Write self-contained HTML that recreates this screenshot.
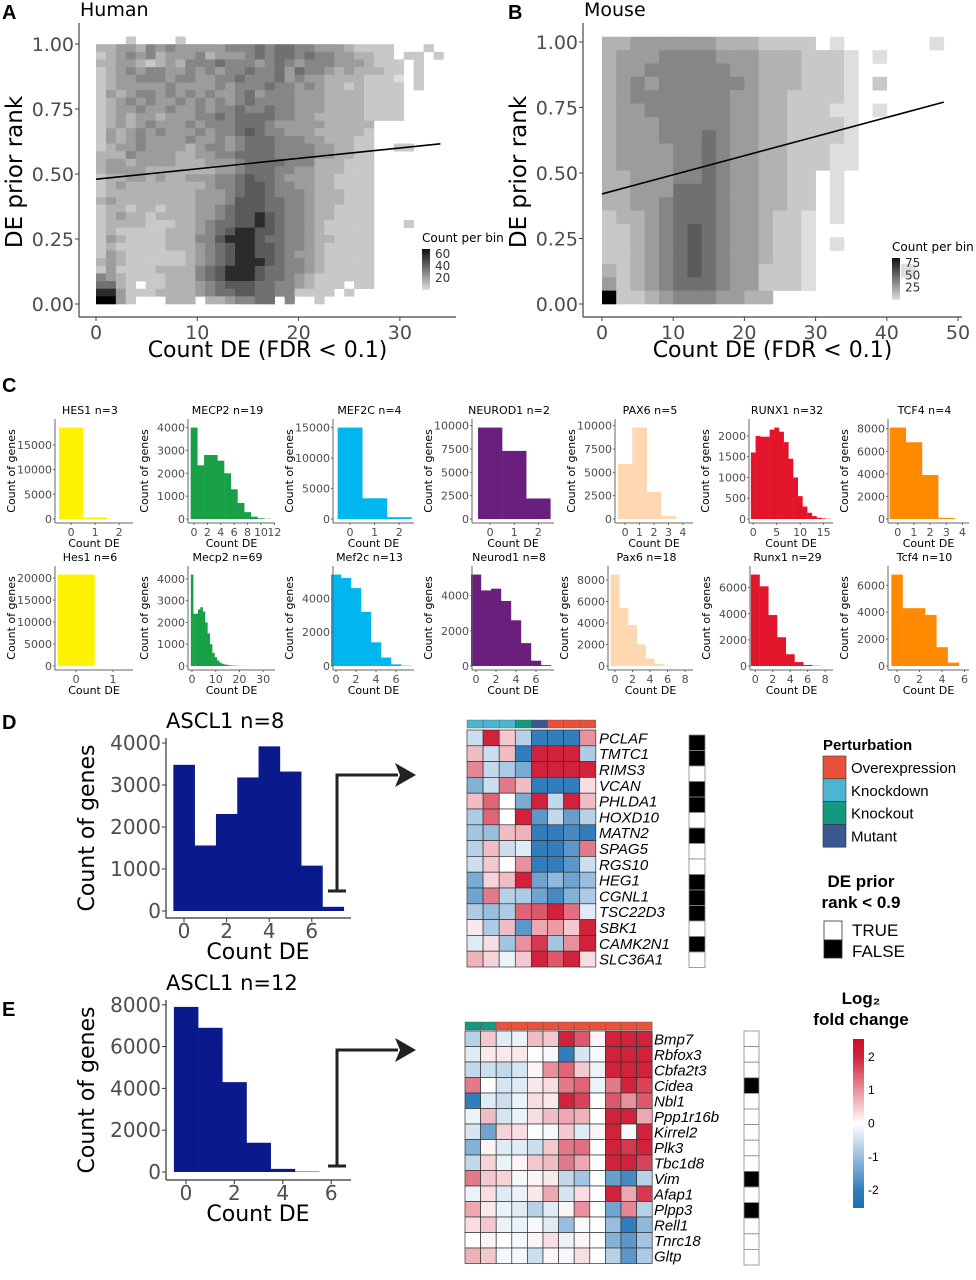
<!DOCTYPE html>
<html><head><meta charset="utf-8">
<style>
html,body{margin:0;padding:0;background:#fff;}
svg{display:block;}
.dj{font-family:"DejaVu Sans","Liberation Sans",sans-serif;}
.ls{font-family:"Liberation Sans",sans-serif;}
</style></head>
<body>
<svg id="fig" width="976" height="1280" viewBox="0 0 976 1280" xmlns="http://www.w3.org/2000/svg"></svg>
<script>
// ---------- Panel A (human) 2D histogram intensity rows (top -> bottom), levels 1..9, '.' empty ----------
const humanRows = [
"...2....2..........................",
"334435454444455565665544432222...2.",
"234545344453444565665655443322.22.2",
"3344323435556555456545554443222.2..",
"2345455445454556556465543433322.2..",
"2344555455445565556454433332221.2..",
"2344444544445455565545433232222.2..",
"2434554545454456455544433332222....",
"2345454454545456555544433332222....",
"2344544544545565565544433332222....",
"2343443444556566665544333332222....",
"2343454445455566654444433333.......",
"2434545444545567655444333332.......",
"2434544445445456665554433322.......",
"2344544443455456665555443322..22...",
"3335444433445566665555443322.......",
"3443444433344456666555333222.......",
"3444433333334456665544333222.......",
"2334434334445567665444332222.......",
"2343333333345567765544332222.......",
"2333333333444567765554333222.......",
"3433333333444577766554333222.......",
"2332332333445677766554332222.......",
"2343323333445677876554332222.......",
"2333322233456677876554322222...2...",
"2322222333456788776554322222.......",
"2432222333557888766554332222.......",
"2322222333456788776554322222.......",
"2432222223456788776544322222.......",
"3432222223456788876554322222.......",
"2422223333567888766554322222.......",
"5432222333567888766543222222.......",
"6632.22333456777665543222.22.......",
"884222333345667766552222.2.........",
"9942...333.3345566.5..2............"
];
const humanIntercept = 0.48;
const humanSlope = 0.0040;
const humanLineMaxX = 34;
const humanBarTicks = [20, 40, 60];

// ---------- Panel B (mouse) 2D histogram rows (2-unit x bins) ----------
const mouseRows = [
"334444443332222.1......1",
"344455554443332221.1....",
"344555555443332221......",
"345455555543332221.2....",
"345555555443322221......",
"344555555443322211.1....",
"344455555443322221......",
"344455565443322221......",
"344445565443322211......",
"344445565443322211......",
"334445565443322.1.......",
"334446665443322.1.......",
"334456665443322.1.......",
"233456665443221.1.......",
"223456765443221.........",
"223456765443221.1.......",
"223456765443221.........",
"323456765442221......1..",
"423456665442221.........",
"922345554433............"
];
const mouseIntercept = 0.42;
const mouseSlope = 0.0073;
const mouseLineMaxX = 48;
const mouseBarTicks = [25, 50, 75];

// ---------- Panel C histograms ----------
const hes1Human = [18500, 300, 0];
const mecp2Human = [4000, 2350, 2800, 2800, 2550, 2000, 1300, 700, 300, 100, 30, 10];
const mef2cHuman = [15000, 3400, 300];
const neurod1Human = [9800, 7300, 2200];
const pax6Human = [5900, 9800, 2900, 300, 0];
const runx1Human = [1600, 2000, 1980, 1980, 2150, 2200, 2100, 1850, 1450, 1000, 550, 300, 150, 70, 30, 15, 5];
const tcf4Human = [8100, 6800, 3900, 100, 0];
const hes1Mouse = [20800, 0];
const mecp2Mouse = [4200, 2400, 2400, 2600, 2700, 2500, 2000, 1500, 1000, 600, 400, 250, 150, 100, 70, 50, 30, 20, 15, 10, 5, 5, 3, 2, 1];
const mef2cMouse = [5400, 5200, 4600, 3200, 1400, 500, 100, 20];
const neurod1Mouse = [5200, 4300, 4400, 3700, 2600, 1300, 300, 50];
const pax6Mouse = [8500, 5400, 3800, 2000, 700, 200, 50, 10];
const runx1Mouse = [7000, 6100, 3900, 2200, 900, 300, 80, 20];
const tcf4Mouse = [6800, 4300, 4300, 3800, 1400, 250, 0];

// ---------- Panel D / E histograms ----------
const ascl1HumanCounts = [3480, 1560, 2310, 3180, 3920, 3320, 1080, 100];
const ascl1HumanYTicks = [0, 1000, 2000, 3000, 4000];
const ascl1MouseCounts = [7900, 6900, 4300, 1400, 150, 20];
const ascl1MouseYTicks = [0, 2000, 4000, 6000, 8000];
const countDeTicks = [0, 2, 4, 6];

// ---------- Heatmap D ----------
const genesD = ["PCLAF","TMTC1","RIMS3","VCAN","PHLDA1","HOXD10","MATN2","SPAG5","RGS10","HEG1","CGNL1","TSC22D3","SBK1","CAMK2N1","SLC36A1"];
const pertD = ["KD","KD","KD","KO","MUT","OE","OE","OE"];
const lfcD = [
[-0.5,2,0.5,-0.7,-2,-2,-2,1],
[0.6,-0.5,0.6,-2,2,2,2,-0.8],
[1.1,-0.6,-0.8,-1.3,2,2,2,2],
[-1.2,-0.5,1.2,0.6,-2,-2,-2,0.3],
[0.6,1.4,0,-1.3,2,-0.6,2,0.6],
[-0.8,1.4,0,2,-1.6,-0.6,-1.5,-0.7],
[-0.9,-1,0.6,0.7,-2,-2,-1.8,-2],
[-0.7,0.6,-0.5,-0.3,-2,-2,-1.6,1.2],
[-0.5,0.5,0,1,-2,-2,-1.6,-0.5],
[-1.3,0.4,0.6,2,-1.4,-1.1,-1.4,-1],
[-1.4,1.2,-0.7,-0.8,-1.4,-1.8,-1.2,-0.8],
[-0.8,-1,-0.8,1.4,1.5,2,1.3,-0.3],
[0.2,-0.8,0.6,-1.6,0.8,0.9,0.5,2],
[-0.3,0.3,-0.9,1,1.8,-0.9,1,2],
[0.7,0.4,-0.2,0.5,2,1.5,2,0.3]
];
const priorD = [false,false,true,false,false,true,false,true,true,false,false,false,true,false,true];

// ---------- Heatmap E ----------
const genesE = ["Bmp7","Rbfox3","Cbfa2t3","Cidea","Nbl1","Ppp1r16b","Kirrel2","Plk3","Tbc1d8","Vim","Afap1","Plpp3","Rell1","Tnrc18","Gltp"];
const pertE = ["KO","KO","OE","OE","OE","OE","OE","OE","OE","OE","OE","OE"];
const lfcE = [
[-0.7,0.5,-0.3,-0.2,0.6,0.5,2,1.5,0.1,2,2,2],
[-0.3,0.2,0.2,0.2,0,-0.1,-2,-0.4,-0.1,2,2,2],
[-0.6,-0.5,-0.6,-0.4,0.1,1,1.4,0.5,-0.2,2,2,2],
[1.2,0,-0.4,-0.3,0.2,0.3,1.2,1.4,-0.2,1.2,2,1.7],
[-2,-0.3,-0.5,-0.2,0.3,0.2,2,1.7,0,1.5,1,1.5],
[-0.2,0.6,-0.4,-0.2,0.3,0.6,0.8,0.7,0,2,2,0.8],
[-0.4,-1.4,0.4,0.3,0,-0.1,0.5,-0.3,0.1,2,-0.1,2],
[-1.2,0.1,-0.3,-0.3,-0.5,0.5,1.2,1.3,0,2,1.8,2],
[-0.6,0.4,-0.2,0.1,0.5,0.6,1.2,0.8,0,2,2,1.7],
[1.2,0.5,0.4,-0.1,0.1,0.2,-0.6,-0.9,0,-1.5,-1.8,-0.7],
[-0.2,0.3,-0.3,-0.2,0.2,0.8,-0.4,0.3,0,2,0.8,1.8],
[0.8,0.2,-0.2,-0.3,-0.7,-0.3,0.1,1,0,-1.4,1.1,-0.7],
[0.3,0.5,-0.2,-0.2,-0.1,-0.3,-1,-0.1,0,-1,-2,-1.1],
[0,0.1,0,-0.1,0.1,0.3,-0.2,0.1,0,-1.2,-1.6,-0.9],
[0.7,0.5,-0.1,-0.1,-0.5,0.1,-0.1,0.3,0,-0.7,-1.6,-0.8]
];
const priorE = [true,true,true,false,true,true,true,true,true,false,true,false,true,true,true];
const lfcTicks = [2, 1, 0, -1, -2];

// ================= drawing =================
const NS = 'http://www.w3.org/2000/svg';
const svg = document.getElementById('fig');
function mk(tag, parent, attrs, text) {
  const e = document.createElementNS(NS, tag);
  for (const k in attrs) e.setAttribute(k, attrs[k]);
  if (text !== undefined) e.textContent = text;
  (parent || svg).appendChild(e);
  return e;
}
function grp(name) {
  const g = mk('g', svg, {});
  
  
  return g;
}
function lvlGray(l) { const g = Math.round(222 - (l - 1) * 22 - (l >= 8 ? (l - 7) * 25 : 0)); return `rgb(${g},${g},${g})`; }
const AX = '#444', TK = '#4d4d4d';

// Panel letters
[['A',2,19],['B',508,19],['C',2,392],['D',2,729],['E',2,1016]].forEach(p => {
  const t = mk('text', svg, {x:p[1], y:p[2], 'font-size':20, 'font-weight':'bold', class:'ls'}, p[0]);
  
  
});

function density(opts) {
  const g = grp(opts.name);
  const {xs, ys, rows, binX, binY, top} = opts;
  rows.forEach((row, r) => {
    for (let c = 0; c < row.length; c++) {
      const ch = row[c]; if (ch === '.') continue;
      const x0 = xs(c * binX), x1 = xs((c + 1) * binX);
      const y0 = ys(top - r * binY), y1 = ys(top - (r + 1) * binY);
      const rc = mk('rect', g, {x:x0, y:y0, width:x1 - x0 + 0.3, height:y1 - y0 + 0.3, fill:lvlGray(+ch)});
      
      
    }
  });
  const ln = mk('line', g, {x1:xs(0), y1:ys(opts.intercept), x2:xs(opts.lineMax), y2:ys(opts.intercept + opts.slope * opts.lineMax), stroke:'#000', 'stroke-width':1.6});
  
  
  mk('line', g, {x1:opts.axL, y1:opts.axT, x2:opts.axL, y2:opts.axB, stroke:AX, 'stroke-width':1.2});
  mk('line', g, {x1:opts.axL, y1:opts.axB, x2:opts.axR, y2:opts.axB, stroke:AX, 'stroke-width':1.2});
  [0, 0.25, 0.5, 0.75, 1].forEach(v => {
    mk('line', g, {x1:opts.axL - 4, y1:ys(v), x2:opts.axL, y2:ys(v), stroke:AX});
    const t = mk('text', g, {x:opts.axL - 5, y:ys(v) + 7, 'text-anchor':'end', 'font-size':19, fill:TK, class:'dj'}, v.toFixed(2));
    
    
  });
  opts.xticks.forEach(v => {
    mk('line', g, {x1:xs(v), y1:opts.axB, x2:xs(v), y2:opts.axB + 4, stroke:AX});
    const t = mk('text', g, {x:xs(v), y:opts.axB + 22, 'text-anchor':'middle', 'font-size':19, fill:TK, class:'dj'}, v);
    
    
  });
  const xt = mk('text', g, {x:(opts.axL + opts.axR) / 2, y:357, 'text-anchor':'middle', 'font-size':22, class:'dj'}, 'Count DE (FDR < 0.1)');
  
  
  const yt = mk('text', g, {x:0, y:0, transform:`translate(${opts.axL - 57},172) rotate(-90)`, 'text-anchor':'middle', 'font-size':23, class:'dj'}, 'DE prior rank');
  
  
  const st = mk('text', g, {x:opts.axL + 1, y:16, 'font-size':19, class:'dj'}, opts.title);
  
  
  const lg = mk('g', g, {});
  
  
  const gid = 'grad' + opts.name;
  const defs = mk('defs', lg, {});
  const lgd = mk('linearGradient', defs, {id:gid, x1:0, y1:0, x2:0, y2:1});
  mk('stop', lgd, {offset:0, 'stop-color':'#111'});
  mk('stop', lgd, {offset:1, 'stop-color':'#ddd'});
  mk('text', lg, {x:opts.cbX, y:opts.cbY - 7, 'font-size':12, class:'dj'}, 'Count per bin');
  mk('rect', lg, {x:opts.cbX, y:opts.cbY, width:8, height:opts.cbH, fill:`url(#${gid})`});
  opts.cbTicks.forEach(v => {
    const yy = opts.cbY + opts.cbH * (1 - v / opts.cbMax);
    mk('text', lg, {x:opts.cbX + 13, y:yy + 4, 'font-size':12, fill:'#333', class:'dj'}, v);
  });
}

density({name:'panel-a-human', title:'Human', rows:humanRows,
  xs:v => 96 + 10.13 * v, ys:v => 304 - 260 * v, binX:0.98, binY:1.0286 / 35, top:1.0286,
  intercept:humanIntercept, slope:humanSlope, lineMax:humanLineMaxX,
  axL:79, axR:456, axT:23, axB:317, xticks:[0, 10, 20, 30],
  cbX:422, cbY:249, cbH:41, cbMax:68, cbTicks:humanBarTicks});
density({name:'panel-b-mouse', title:'Mouse', rows:mouseRows,
  xs:v => 602 + 7.12 * v, ys:v => 304 - 262 * v, binX:2, binY:0.051, top:1.02,
  intercept:mouseIntercept, slope:mouseSlope, lineMax:mouseLineMaxX,
  axL:583, axR:962, axT:23, axB:317, xticks:[0, 10, 20, 30, 40, 50],
  cbX:892, cbY:258, cbH:42, cbMax:85, cbTicks:mouseBarTicks});

// ---------------- Panel C ----------------
const cPanels = [
 {t:'HES1 n=3', d:hes1Human, c:'#fff200', x0:55, w:78, row:0, xd:[-0.67,2.58], xt:[0,1,2], yt:[0,5000,10000,15000]},
 {t:'MECP2 n=19', d:mecp2Human, c:'#17a045', x0:188, w:87, row:0, xd:[-0.9,12.1], xt:[0,2,4,6,8,10,12], yt:[0,1000,2000,3000,4000]},
 {t:'MEF2C n=4', d:mef2cHuman, c:'#00b6ef', x0:333, w:81, row:0, xd:[-0.69,2.6], xt:[0,1,2], yt:[0,5000,10000,15000]},
 {t:'NEUROD1 n=2', d:neurod1Human, c:'#6a1f7c', x0:472, w:82, row:0, xd:[-0.75,2.65], xt:[0,1,2], yt:[0,2500,5000,7500,10000]},
 {t:'PAX6 n=5', d:pax6Human, c:'#fdd8b0', x0:615, w:78, row:0, xd:[-0.7,4.7], xt:[0,1,2,3,4], yt:[0,2500,5000,7500,10000]},
 {t:'RUNX1 n=32', d:runx1Human, c:'#e3152b', x0:749, w:84, row:0, xd:[-0.9,17], xt:[0,5,10,15], yt:[0,500,1000,1500,2000]},
 {t:'TCF4 n=4', d:tcf4Human, c:'#ff8a00', x0:888, w:81, row:0, xd:[-0.6,4.4], xt:[0,1,2,3,4], yt:[0,2000,4000,6000,8000]},
 {t:'Hes1 n=6', d:hes1Mouse, c:'#fff200', x0:55, w:78, row:1, xd:[-0.57,1.54], xt:[0,1], yt:[0,5000,10000,15000,20000]},
 {t:'Mecp2 n=69', d:mecp2Mouse, c:'#17a045', x0:188, w:87, row:1, xd:[-1.7,35], xt:[0,10,20,30], yt:[0,1000,2000,3000,4000]},
 {t:'Mef2c n=13', d:mef2cMouse, c:'#00b6ef', x0:333, w:81, row:1, xd:[-0.3,7.8], xt:[0,2,4,6], yt:[0,2000,4000]},
 {t:'Neurod1 n=8', d:neurod1Mouse, c:'#6a1f7c', x0:472, w:82, row:1, xd:[-0.4,7.8], xt:[0,2,4,6], yt:[0,2000,4000]},
 {t:'Pax6 n=18', d:pax6Mouse, c:'#fdd8b0', x0:608, w:85, row:1, xd:[-0.8,8.9], xt:[0,2,4,6,8], yt:[0,2000,4000,6000,8000]},
 {t:'Runx1 n=29', d:runx1Mouse, c:'#e3152b', x0:750, w:83, row:1, xd:[-0.6,8.9], xt:[0,2,4,6,8], yt:[0,2000,4000,6000]},
 {t:'Tcf4 n=10', d:tcf4Mouse, c:'#ff8a00', x0:888, w:81, row:1, xd:[-0.8,6.4], xt:[0,2,4,6], yt:[0,2000,4000,6000]}
];
cPanels.forEach(p => {
  const g = grp('histogram-' + p.t.split(' ')[0].toLowerCase() + (p.row ? '-mouse' : '-human'));
  const top = p.row ? 570 : 423, base = p.row ? 666 : 519, axY = base + 4;
  const ymax = Math.max(...p.d) * 1.05;
  const xs = v => p.x0 + (v - p.xd[0]) / (p.xd[1] - p.xd[0]) * p.w;
  const ys = v => base - v / ymax * (base - top);
  p.d.forEach((v, i) => {
    if (v <= 0) return;
    const r = mk('rect', g, {x:xs(i - 0.5), y:ys(v), width:xs(i + 0.5) - xs(i - 0.5) + 0.2, height:base - ys(v), fill:p.c});
    
    
  });
  mk('line', g, {x1:p.x0, y1:top - 4, x2:p.x0, y2:axY, stroke:'#666', 'stroke-width':1});
  mk('line', g, {x1:p.x0, y1:axY, x2:p.x0 + p.w, y2:axY, stroke:'#666', 'stroke-width':1});
  p.yt.forEach(v => {
    mk('line', g, {x1:p.x0 - 2, y1:ys(v), x2:p.x0, y2:ys(v), stroke:'#666'});
    mk('text', g, {x:p.x0 - 3, y:ys(v) + 4, 'text-anchor':'end', 'font-size':11, fill:TK, class:'dj'}, v);
  });
  p.xt.forEach(v => {
    mk('line', g, {x1:xs(v), y1:axY, x2:xs(v), y2:axY + 2, stroke:'#666'});
    mk('text', g, {x:xs(v), y:axY + 13, 'text-anchor':'middle', 'font-size':11, fill:TK, class:'dj'}, v);
  });
  mk('text', g, {x:p.x0 + p.w / 2, y:axY + 24, 'text-anchor':'middle', 'font-size':11, class:'dj'}, 'Count DE');
  mk('text', g, {x:0, y:0, transform:`translate(${p.x0 - 40},${(top + base) / 2}) rotate(-90)`, 'text-anchor':'middle', 'font-size':11, class:'dj'}, 'Count of genes');
  mk('text', g, {x:p.x0 + p.w / 2 - 4, y:top - 9, 'text-anchor':'middle', 'font-size':11, class:'dj'}, p.t);
});

// ---------------- Panels D/E histograms ----------------
function bigHist(name, title, counts, yticks, base, pxPerUnitY, x0px, pxPerX, axTop, axBot, arrowTop, capY) {
  const g = grp(name);
  const xs = v => x0px + pxPerX * v;
  const ys = v => base - v * pxPerUnitY;
  counts.forEach((v, i) => {
    const r = mk('rect', g, {x:xs(i - 0.5), y:ys(v), width:pxPerX + 0.3, height:base - ys(v), fill:'#0a1a8c'});
    
    
  });
  mk('line', g, {x1:166, y1:axTop, x2:166, y2:axBot, stroke:'#333', 'stroke-width':1.2});
  mk('line', g, {x1:166, y1:axBot, x2:351, y2:axBot, stroke:'#333', 'stroke-width':1.2});
  yticks.forEach(v => {
    mk('line', g, {x1:162, y1:ys(v), x2:166, y2:ys(v), stroke:'#333'});
    mk('text', g, {x:161, y:ys(v) + 7, 'text-anchor':'end', 'font-size':20, fill:TK, class:'dj'}, v);
  });
  countDeTicks.forEach(v => {
    mk('line', g, {x1:xs(v), y1:axBot, x2:xs(v), y2:axBot + 4, stroke:'#333'});
    mk('text', g, {x:xs(v), y:axBot + 20, 'text-anchor':'middle', 'font-size':20, fill:TK, class:'dj'}, v);
  });
  mk('text', g, {x:258, y:axBot + 41, 'text-anchor':'middle', 'font-size':22, class:'dj'}, 'Count DE');
  mk('text', g, {x:0, y:0, transform:`translate(94,${(axTop + axBot) / 2}) rotate(-90)`, 'text-anchor':'middle', 'font-size':22, class:'dj'}, 'Count of genes');
  mk('text', g, {x:166, y:axTop - 10, 'font-size':21, class:'dj'}, title);
  const ar = mk('g', g, {});
  
  
  mk('polyline', ar, {points:`337,${capY} 337,${arrowTop} 398,${arrowTop}`, fill:'none', stroke:'#222', 'stroke-width':3});
  mk('line', ar, {x1:328, y1:capY, x2:346, y2:capY, stroke:'#222', 'stroke-width':3});
  mk('polygon', ar, {points:`395,${arrowTop - 12} 416,${arrowTop} 395,${arrowTop + 12} 400,${arrowTop}`, fill:'#222'});
}
bigHist('histogram-ascl1-human', 'ASCL1 n=8', ascl1HumanCounts, ascl1HumanYTicks, 911, 0.042, 184, 21.3, 738, 918, 775, 891);
bigHist('histogram-ascl1-mouse', 'ASCL1 n=12', ascl1MouseCounts, ascl1MouseYTicks, 1172, 0.0209, 186, 24.2, 1000, 1180, 1050, 1166);

// ---------------- Heatmaps ----------------
const pertColor = {OE:'#e8513a', KD:'#4bb6d1', KO:'#14997f', MUT:'#3b5890'};
function lfcColor(v) {
  const t = Math.min(1, Math.abs(v) / 2.2);
  const c = v >= 0 ? [204, 12, 40] : [30, 112, 180];
  const m = c.map(k => Math.round(255 + (k - 255) * t));
  return `rgb(${m[0]},${m[1]},${m[2]})`;
}
function heatmap(name, genes, pert, lfc, prior, x0, cw, annTop, annH, rowTop, rh, labX, boxX, boxW, boxTop, boxRh) {
  const g = grp(name);
  pert.forEach((p, j) => {
    const r = mk('rect', g, {x:x0 + j * cw, y:annTop, width:cw, height:annH, fill:pertColor[p], stroke:'#555', 'stroke-width':0.4});
    
    
  });
  lfc.forEach((row, i) => {
    row.forEach((v, j) => {
      const r = mk('rect', g, {x:x0 + j * cw, y:rowTop + i * rh, width:cw, height:rh, fill:lfcColor(v), stroke:'#333', 'stroke-width':0.7});
      
      
    });
    const t = mk('text', g, {x:labX, y:rowTop + i * rh + rh / 2 + 5.5, 'font-size':15, 'font-style':'italic', class:'ls'}, genes[i]);
    
    
    const b = mk('rect', g, {x:boxX, y:boxTop + i * boxRh, width:boxW, height:boxRh, fill:prior[i] ? '#fff' : '#000', stroke:'#888', 'stroke-width':0.8});
    
    
  });
}
heatmap('heatmap-human', genesD, pertD, lfcD, priorD, 467, 16.1, 720, 8, 730, 15.8, 599, 689, 16, 735, 15.5);
heatmap('heatmap-mouse', genesE, pertE, lfcE, priorE, 465, 15.6, 1022, 8, 1031, 15.5, 654, 744, 15, 1031, 15.6);

// ---------------- Legends ----------------
const lg = grp('heatmap-legends');
mk('text', lg, {x:823, y:750, 'font-size':15, 'font-weight':'bold', class:'ls'}, 'Perturbation');
[['Overexpression','OE'],['Knockdown','KD'],['Knockout','KO'],['Mutant','MUT']].forEach((p, i) => {
  const r = mk('rect', lg, {x:823, y:756 + i * 22.8, width:23, height:22.8, fill:pertColor[p[1]], stroke:'#333', 'stroke-width':0.6});
  
  
  mk('text', lg, {x:851, y:756 + i * 22.8 + 17, 'font-size':15, class:'ls'}, p[0]);
});
mk('text', lg, {x:861, y:887, 'font-size':17, 'font-weight':'bold', 'text-anchor':'middle', class:'ls'}, 'DE prior');
mk('text', lg, {x:861, y:908, 'font-size':17, 'font-weight':'bold', 'text-anchor':'middle', class:'ls'}, 'rank < 0.9');
mk('rect', lg, {x:824, y:921, width:18, height:19, fill:'#fff', stroke:'#333', 'stroke-width':0.8});
mk('rect', lg, {x:824, y:940, width:18, height:18, fill:'#000', stroke:'#333', 'stroke-width':0.8});
mk('text', lg, {x:852, y:936, 'font-size':17, class:'ls'}, 'TRUE');
mk('text', lg, {x:852, y:957, 'font-size':17, class:'ls'}, 'FALSE');
mk('text', lg, {x:861, y:1004, 'font-size':17, 'font-weight':'bold', 'text-anchor':'middle', class:'ls'}, 'Log₂');
mk('text', lg, {x:861, y:1025, 'font-size':17, 'font-weight':'bold', 'text-anchor':'middle', class:'ls'}, 'fold change');
const dfs = mk('defs', lg, {});
const lgr = mk('linearGradient', dfs, {id:'lfcgrad', x1:0, y1:0, x2:0, y2:1});
[2.54, 2, 1, 0, -1, -2, -2.54].forEach(v => {
  mk('stop', lgr, {offset:((2.54 - v) / 5.08).toFixed(3), 'stop-color':lfcColor(v)});
});
const cb = mk('rect', lg, {x:853, y:1039, width:11, height:169, fill:'url(#lfcgrad)'});


lfcTicks.forEach(v => {
  const yy = 1039 + 169 * (2.54 - v) / 5.08;
  mk('text', lg, {x:868, y:yy + 4, 'font-size':12, class:'ls'}, v);
});
</script>
</body></html>
